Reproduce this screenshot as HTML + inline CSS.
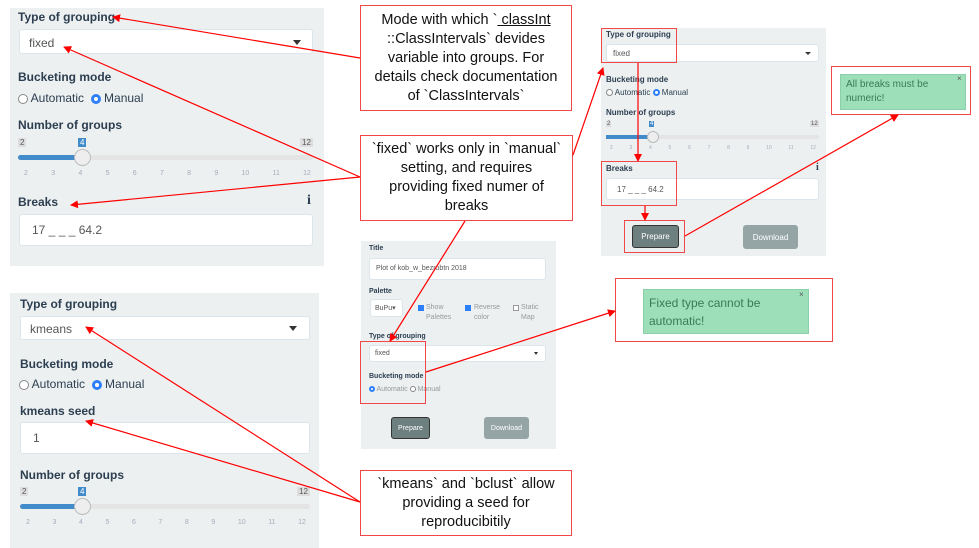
<!DOCTYPE html>
<html><head><meta charset="utf-8"><style>
*{box-sizing:border-box;margin:0;padding:0}
body{width:979px;height:548px;background:#fff;position:relative;overflow:hidden;font-family:"Liberation Sans",sans-serif;color:#2c3e50}
.a{position:absolute}
.panel{background:#ecf0f1}
.lbl{position:absolute;font-weight:bold;color:#2c3e50;white-space:nowrap}
.inp{position:absolute;background:#fff;border:1px solid #dce4ec;border-radius:3px;color:#555;white-space:nowrap}
.caret{position:absolute;width:0;height:0;border-left:4px solid transparent;border-right:4px solid transparent;border-top:5px solid #333}
.rb{position:absolute;border:1.5px solid #f04848}
.note{position:absolute;border:1.5px solid #f04848;background:#fff;font-family:"Liberation Sans",sans-serif;color:#111;text-align:center;font-size:14.5px;line-height:19px;display:flex;align-items:center;justify-content:center}
.note div{white-space:nowrap}
.radio{display:inline-block;border:1px solid #888;border-radius:50%;background:#fff;vertical-align:middle}
.radio.on{border:3px solid #2d7ff9}
.txt{position:absolute;white-space:nowrap;color:#2c3e50}
.btn{position:absolute;color:#fff;display:flex;align-items:center;justify-content:center;border-radius:3px}
.green{position:absolute;background:#9ddfb8;color:#3b7a58;border:1px solid #8ad0a8}
.ticks{position:absolute;display:flex;justify-content:space-between;color:#aab;}
</style></head><body>

<!-- Top-left panel -->
<div class="a panel" style="left:10px;top:8px;width:314px;height:258px"></div>
<div class="lbl" style="left:18px;top:10px;font-size:12px">Type of grouping</div>
<div class="inp" style="left:19px;top:29px;width:294px;height:25px;font-size:12px;padding:6px 9px">fixed</div>
<div class="caret" style="left:293px;top:40px"></div>
<div class="lbl" style="left:18px;top:70px;font-size:12px">Bucketing mode</div>
<div class="txt" style="left:18px;top:91px;font-size:12px"><span class="radio" style="width:10px;height:10px"></span> Automatic &nbsp;<span class="radio on" style="width:10px;height:10px"></span> Manual</div>
<div class="lbl" style="left:18px;top:118px;font-size:12px">Number of groups</div>
<div class="a" style="left:18px;top:138px;font-size:8px;background:#ddd;color:#555;padding:0 2px">2</div>
<div class="a" style="left:78px;top:138px;font-size:8px;background:#428bca;color:#fff;padding:0 2px">4</div>
<div class="a" style="left:300px;top:138px;font-size:8px;background:#ddd;color:#555;padding:0 2px">12</div>
<div class="a" style="left:18px;top:155px;width:295px;height:5px;background:#e4e4e4;border-radius:3px"></div>
<div class="a" style="left:18px;top:155px;width:65px;height:5px;background:#428bca;border-radius:3px"></div>
<div class="a" style="left:74px;top:149px;width:17px;height:17px;border-radius:50%;background:#eee;border:1px solid #bbb"></div>
<div class="ticks" style="left:24px;top:170px;width:287px;font-size:7px"><span>2</span><span>3</span><span>4</span><span>5</span><span>6</span><span>7</span><span>8</span><span>9</span><span>10</span><span>11</span><span>12</span></div>
<div class="lbl" style="left:18px;top:195px;font-size:12px">Breaks</div>
<div class="lbl" style="left:307px;top:193px;font-size:14px;font-family:'Liberation Serif',serif">i</div>
<div class="inp" style="left:19px;top:214px;width:294px;height:32px;font-size:12px;padding:8px 12px">17 _ _ _ 64.2</div>

<!-- Bottom-left panel -->
<div class="a panel" style="left:10px;top:293px;width:309px;height:255px"></div>
<div class="lbl" style="left:20px;top:297px;font-size:12px">Type of grouping</div>
<div class="inp" style="left:20px;top:316px;width:290px;height:24px;font-size:12px;padding:5px 9px">kmeans</div>
<div class="caret" style="left:289px;top:326px"></div>
<div class="lbl" style="left:20px;top:357px;font-size:12px">Bucketing mode</div>
<div class="txt" style="left:19px;top:377px;font-size:12px"><span class="radio" style="width:10px;height:10px"></span> Automatic &nbsp;<span class="radio on" style="width:10px;height:10px"></span> Manual</div>
<div class="lbl" style="left:20px;top:404px;font-size:12px">kmeans seed</div>
<div class="inp" style="left:20px;top:422px;width:290px;height:32px;font-size:12px;padding:8px 12px">1</div>
<div class="lbl" style="left:20px;top:468px;font-size:12px">Number of groups</div>
<div class="a" style="left:20px;top:487px;font-size:8px;background:#ddd;color:#555;padding:0 2px">2</div>
<div class="a" style="left:78px;top:487px;font-size:8px;background:#428bca;color:#fff;padding:0 2px">4</div>
<div class="a" style="left:297px;top:487px;font-size:8px;background:#ddd;color:#555;padding:0 2px">12</div>
<div class="a" style="left:20px;top:504px;width:290px;height:5px;background:#e4e4e4;border-radius:3px"></div>
<div class="a" style="left:20px;top:504px;width:63px;height:5px;background:#428bca;border-radius:3px"></div>
<div class="a" style="left:74px;top:498px;width:17px;height:17px;border-radius:50%;background:#eee;border:1px solid #bbb"></div>
<div class="ticks" style="left:26px;top:519px;width:280px;font-size:7px"><span>2</span><span>3</span><span>4</span><span>5</span><span>6</span><span>7</span><span>8</span><span>9</span><span>10</span><span>11</span><span>12</span></div>

<!-- Middle panel -->
<div class="a panel" style="left:361px;top:241px;width:195px;height:208px"></div>
<div class="lbl" style="left:369px;top:245px;font-size:7px">Title</div>
<div class="inp" style="left:369px;top:258px;width:177px;height:22px;font-size:7px;padding:6px 6px">Plot of kob_w_bezrobtn 2018</div>
<div class="lbl" style="left:369px;top:288px;font-size:7px">Palette</div>
<div class="inp" style="left:370px;top:299px;width:33px;height:18px;font-size:7px;padding:4px 4px">BuPu▾</div>
<div class="a" style="left:418px;top:305px;width:6px;height:6px;background:#2d7ff9"></div>
<div class="txt" style="left:426px;top:303px;font-size:7px;line-height:10px;color:#999">Show<br>Palettes</div>
<div class="a" style="left:465px;top:305px;width:6px;height:6px;background:#2d7ff9"></div>
<div class="txt" style="left:474px;top:303px;font-size:7px;line-height:10px;color:#999">Reverse<br>color</div>
<div class="a" style="left:513px;top:305px;width:6px;height:6px;background:#fff;border:1px solid #999"></div>
<div class="txt" style="left:521px;top:303px;font-size:7px;line-height:10px;color:#999">Static<br>Map</div>
<div class="lbl" style="left:369px;top:333px;font-size:7px">Type of grouping</div>
<div class="inp" style="left:369px;top:345px;width:177px;height:17px;font-size:7px;padding:4px 5px">fixed</div>
<div class="caret" style="left:534px;top:352px;border-width:3px 2.5px 0 2.5px"></div>
<div class="lbl" style="left:369px;top:373px;font-size:7px">Bucketing mode</div>
<div class="txt" style="left:369px;top:386px;font-size:7px;color:#999"><span class="radio on" style="width:6px;height:6px;border-width:2px"></span> Automatic <span class="radio" style="width:6px;height:6px"></span> Manual</div>
<div class="btn" style="left:391px;top:417px;width:39px;height:22px;background:#6e7f80;border:1.5px solid #333;font-size:7px">Prepare</div>
<div class="btn" style="left:484px;top:417px;width:45px;height:22px;background:#95a5a6;font-size:7px">Download</div>
<div class="rb" style="left:360px;top:341px;width:66px;height:63px"></div>

<!-- Right panel -->
<div class="a panel" style="left:601px;top:28px;width:225px;height:228px"></div>
<div class="lbl" style="left:606px;top:30px;font-size:8px">Type of grouping</div>
<div class="inp" style="left:606px;top:44px;width:213px;height:18px;font-size:8px;padding:4px 6px">fixed</div>
<div class="caret" style="left:805px;top:52px;border-width:3px 3px 0 3px"></div>
<div class="lbl" style="left:606px;top:75px;font-size:8px">Bucketing mode</div>
<div class="txt" style="left:606px;top:88px;font-size:8px"><span class="radio" style="width:7px;height:7px"></span> Automatic <span class="radio on" style="width:7px;height:7px;border-width:2px"></span> Manual</div>
<div class="lbl" style="left:606px;top:108px;font-size:8px">Number of groups</div>
<div class="a" style="left:606px;top:121px;font-size:6px;background:#ddd;color:#555;padding:0 1px">2</div>
<div class="a" style="left:649px;top:121px;font-size:6px;background:#428bca;color:#fff;padding:0 1px">4</div>
<div class="a" style="left:810px;top:121px;font-size:6px;background:#ddd;color:#555;padding:0 1px">12</div>
<div class="a" style="left:606px;top:135px;width:213px;height:4px;background:#e4e4e4;border-radius:2px"></div>
<div class="a" style="left:606px;top:135px;width:47px;height:4px;background:#428bca"></div>
<div class="a" style="left:647px;top:131px;width:12px;height:12px;border-radius:50%;background:#eee;border:1px solid #bbb"></div>
<div class="ticks" style="left:610px;top:145px;width:206px;font-size:5px"><span>2</span><span>3</span><span>4</span><span>5</span><span>6</span><span>7</span><span>8</span><span>9</span><span>10</span><span>11</span><span>12</span></div>
<div class="lbl" style="left:606px;top:164px;font-size:8px">Breaks</div>
<div class="lbl" style="left:816px;top:162px;font-size:10px;font-family:'Liberation Serif',serif">i</div>
<div class="inp" style="left:606px;top:178px;width:213px;height:22px;font-size:8px;padding:6px 10px">17 _ _ _ 64.2</div>
<div class="btn" style="left:632px;top:225px;width:47px;height:23px;background:#6e7f80;border:1.5px solid #333;font-size:8px">Prepare</div>
<div class="btn" style="left:743px;top:225px;width:55px;height:24px;background:#95a5a6;font-size:8px">Download</div>
<div class="rb" style="left:601px;top:28px;width:76px;height:35px"></div>
<div class="rb" style="left:601px;top:161px;width:76px;height:45px"></div>
<div class="rb" style="left:624px;top:220px;width:61px;height:33px"></div>

<!-- Notifications -->
<div class="rb" style="left:831px;top:66px;width:140px;height:49px"></div>
<div class="green" style="left:840px;top:74px;width:126px;height:36px;font-size:10px;line-height:14px;padding:3px 5px">All breaks must be<br>numeric!</div>
<div class="a" style="left:957px;top:74px;font-size:8px;color:#555">×</div>
<div class="rb" style="left:615px;top:278px;width:218px;height:64px"></div>
<div class="green" style="left:643px;top:289px;width:166px;height:45px;font-size:12px;line-height:18px;padding:4px 5px">Fixed type cannot be<br>automatic!</div>
<div class="a" style="left:799px;top:290px;font-size:8px;color:#555">×</div>

<!-- Notes -->
<div class="note" style="left:360px;top:5px;width:212px;height:106px"><div>Mode with which `<u>&nbsp;classInt</u><br>::ClassIntervals` devides<br>variable into groups. For<br>details check documentation<br>of `ClassIntervals`</div></div>
<div class="note" style="left:360px;top:135px;width:213px;height:86px"><div>`fixed` works only in `manual`<br>setting, and requires<br>providing fixed numer of<br>breaks</div></div>
<div class="note" style="left:360px;top:470px;width:212px;height:66px"><div>`kmeans` and `bclust` allow<br>providing a seed for<br>reproducibitily</div></div>

<!-- Arrows -->
<svg class="a" style="left:0;top:0" width="979" height="548">
<defs><marker id="m" markerWidth="8" markerHeight="8" refX="7" refY="4" orient="auto" markerUnits="userSpaceOnUse"><path d="M0,0 L8,4 L0,8 z" fill="#f00"/></marker></defs>
<g stroke="#f00" stroke-width="1.2" fill="none">
<line x1="360" y1="58" x2="113" y2="17" marker-end="url(#m)"/>
<line x1="360" y1="177" x2="64" y2="47" marker-end="url(#m)"/>
<line x1="360" y1="177" x2="71" y2="205" marker-end="url(#m)"/>
<line x1="573" y1="155" x2="603" y2="68" marker-end="url(#m)"/>
<line x1="465" y1="221" x2="390" y2="341" marker-end="url(#m)"/>
<line x1="638" y1="63" x2="638" y2="161" marker-end="url(#m)"/>
<line x1="645" y1="206" x2="645" y2="220" marker-end="url(#m)"/>
<line x1="685" y1="236" x2="898" y2="115" marker-end="url(#m)"/>
<line x1="426" y1="372" x2="615" y2="311" marker-end="url(#m)"/>
<line x1="360" y1="502" x2="86" y2="327" marker-end="url(#m)"/>
<line x1="360" y1="502" x2="86" y2="421" marker-end="url(#m)"/>
</g></svg>
</body></html>
